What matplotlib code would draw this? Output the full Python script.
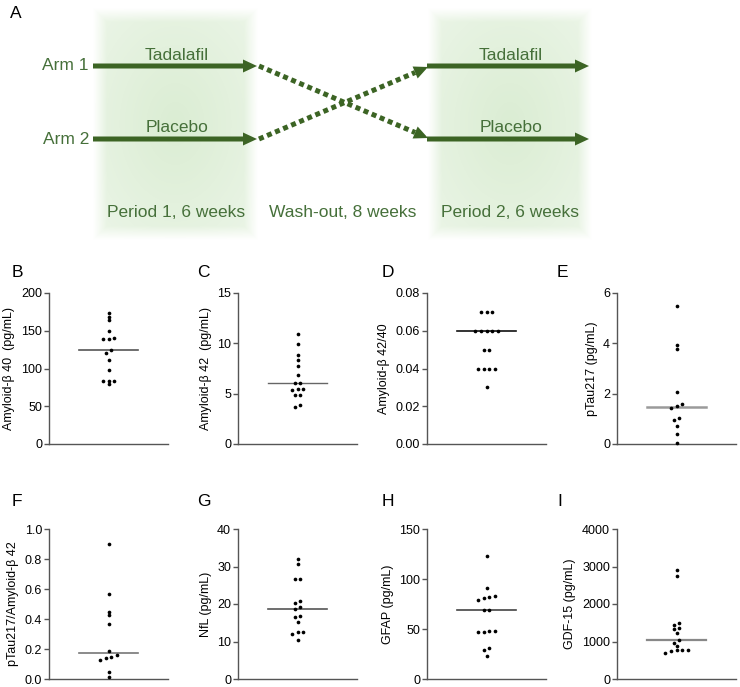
import numpy as np
import matplotlib
matplotlib.use('agg')
import matplotlib.pyplot as plt
from matplotlib.ticker import MultipleLocator, FormatStrFormatter

plt.rcParams['font.family'] = ['Liberation Sans', 'DejaVu Sans']

# one value per participant
amyloid40 = [174, 168, 164, 150, 139, 139, 140, 121, 124, 111, 98, 83, 83, 83, 79]
amyloid42 = [10.9, 9.9, 8.8, 8.3, 7.75, 6.9, 6.1, 6.1, 5.45, 5.5, 5.4, 4.85, 4.9, 3.7, 3.9]
ratio_42_40 = [0.07, 0.07, 0.07, 0.06, 0.06, 0.06, 0.06, 0.06, 0.05, 0.05,
               0.04, 0.04, 0.04, 0.04, 0.03]
ptau217 = [5.5, 3.93, 3.76, 2.07, 1.52, 1.6, 1.44, 1.05, 0.97, 0.73, 0.38, 0.05]
ptau217_ab42 = [0.90, 0.57, 0.45, 0.43, 0.37, 0.19, 0.16, 0.15, 0.14, 0.13, 0.044, 0.011]
nfl = [32.0, 30.6, 26.8, 26.8, 20.9, 20.4, 19.3, 18.7, 16.7, 16.5, 15.3, 12.5, 12.5, 12.0, 10.3]
gfap = [123.5, 90.7, 83.4, 81.8, 81.1, 79.1, 69.2, 69.2, 47.7, 47.0, 47.0, 47.7, 31.1, 28.8, 23.2]
gdf15 = [2905, 2737, 1492, 1448, 1351, 1333, 1227, 1033, 971, 892, 786, 768, 768, 759, 698]

panel_letters = ['B', 'C', 'D', 'E', 'F', 'G', 'H', 'I']
panel_ylabels = ['Amyloid-β 40  (pg/mL)', 'Amyloid-β 42  (pg/mL)', 'Amyloid-β 42/40',
                 'pTau217 (pg/mL)', 'pTau217/Amyloid-β 42', 'NfL (pg/mL)',
                 'GFAP (pg/mL)', 'GDF-15 (pg/mL)']
panel_data = [amyloid40, amyloid42, ratio_42_40, ptau217, ptau217_ab42, nfl, gfap, gdf15]
panel_ymax = [200, 15, 0.08, 6, 1.0, 40, 150, 4000]
panel_ystep = [50, 5, 0.02, 2, 0.2, 10, 50, 1000]
panel_fmt = ['%d', '%d', '%.2f', '%d', '%.1f', '%d', '%d', '%d']

median_colors = ['#555555', '#666666', '#111111', '#9a9a9a', '#777777', '#555555', '#444444', '#888888']
median_widths = [1.2, 1.0, 1.2, 1.8, 1.2, 1.2, 1.2, 1.6]

GREEN = '#3c6424'
TEXT_GREEN = '#46703a'
W, H = 740, 687


def swarm_offsets(values, ymax, height_px, gap_px=2.5, step=0.1):
    # dots closer than gap_px get spread side by side, centred
    vals = np.asarray(values, float)
    order = np.argsort(vals)
    tol = gap_px * ymax / height_px
    groups = [[order[0]]]
    for i in order[1:]:
        if vals[i] - vals[groups[-1][-1]] < tol:
            groups[-1].append(i)
        else:
            groups.append([i])
    offsets = np.zeros(len(vals))
    for g in groups:
        n = len(g)
        for k, i in enumerate(g):
            offsets[i] = (k - (n - 1) / 2) * step
    return offsets


def period_box(ax, x0, x1, y0, y1):
    w, h = int(x1 - x0), int(y1 - y0)
    xx, yy = np.meshgrid(np.arange(w) + 0.5, np.arange(h) + 0.5)
    edge = np.minimum(np.minimum(xx, w - xx), np.minimum(yy, h - yy))
    fade = np.clip(edge / 14.0, 0, 1)
    r = np.sqrt(((xx - w / 2) / (w / 2)) ** 2 + ((yy - h / 2) / (h / 2)) ** 2)
    alpha = fade * (0.36 - 0.12 * np.clip(r, 0, 1.4))
    img = np.zeros((h, w, 4))
    img[..., 0], img[..., 1], img[..., 2] = 0.60, 0.80, 0.52
    img[..., 3] = alpha
    ax.imshow(img, extent=(x0, x1, y1, y0), aspect='auto', zorder=0, interpolation='bilinear')


def dotted_arrow(ax, x0, y0, x1, y1, head_len=14, head_w=13):
    d = np.array([x1 - x0, y1 - y0], float)
    L = np.hypot(*d)
    u = d / L
    bx, by = x0 + u[0] * (L - head_len), y0 + u[1] * (L - head_len)
    ax.plot([x0, bx], [y0, by], color=GREEN, lw=3.6, linestyle=(0, (1.0, 0.75)),
            solid_capstyle='butt', dash_capstyle='butt')
    ax.arrow(bx, by, u[0] * head_len, u[1] * head_len, width=0.01, head_width=head_w,
             head_length=head_len, length_includes_head=True, color=GREEN, lw=0)


fig = plt.figure(figsize=(W / 100, H / 100), dpi=100)

# ---- panel A: crossover design
dg = fig.add_axes([0, 1 - 240 / H, 1, 240 / H])
period_box(dg, 93, 258, 8, 240)
period_box(dg, 428, 592, 8, 240)
for y in (66, 139):
    dg.arrow(93, y, 164, 0, width=5, head_width=13, head_length=14,
             length_includes_head=True, color=GREEN, lw=0)
    dg.arrow(427, y, 162, 0, width=5, head_width=13, head_length=14,
             length_includes_head=True, color=GREEN, lw=0)
dotted_arrow(dg, 259, 66, 428, 138)
dotted_arrow(dg, 259, 139, 428, 67)
dg.text(89, 66, 'Arm 1', ha='right', va='center', fontsize=12.5, color=TEXT_GREEN)
dg.text(89, 139, 'Arm 2', ha='right', va='center', fontsize=12.5, color=TEXT_GREEN)
dg.text(177, 55, 'Tadalafil', ha='center', va='center', fontsize=12.5, color=TEXT_GREEN)
dg.text(511, 55, 'Tadalafil', ha='center', va='center', fontsize=12.5, color=TEXT_GREEN)
dg.text(177, 128, 'Placebo', ha='center', va='center', fontsize=12.5, color=TEXT_GREEN)
dg.text(511, 128, 'Placebo', ha='center', va='center', fontsize=12.5, color=TEXT_GREEN)
dg.text(176, 213, 'Period 1, 6 weeks', ha='center', va='center', fontsize=12.5, color=TEXT_GREEN)
dg.text(343, 213, 'Wash-out, 8 weeks', ha='center', va='center', fontsize=12.5, color=TEXT_GREEN)
dg.text(510, 213, 'Period 2, 6 weeks', ha='center', va='center', fontsize=12.5, color=TEXT_GREEN)
dg.text(10, 14, 'A', ha='left', va='center', fontsize=12.5, color='black')
dg.set_xlim(0, W)
dg.set_ylim(240, 0)
dg.axis('off')

# ---- panels B-I: dot plots with median line
lefts = [49, 238, 427, 617]
rows = [(444, 151), (679, 150)]
letter_x = [12, 197, 382, 557]
letter_y = [273, 502]

for k in range(8):
    r, c = divmod(k, 4)
    bottom, height = rows[r]
    ax = fig.add_axes([lefts[c] / W, 1 - bottom / H, 119 / W, height / H])
    vals = np.asarray(panel_data[k], float)
    xs = swarm_offsets(vals, panel_ymax[k], height)
    ax.scatter(xs, vals, s=7, color='black', zorder=3, clip_on=False, linewidths=0)
    med = np.median(vals)
    ax.plot([-0.5, 0.5], [med, med], color=median_colors[k], lw=median_widths[k], zorder=2)
    ax.set_xlim(-1, 1)
    ax.set_ylim(0, panel_ymax[k])
    ax.yaxis.set_major_locator(MultipleLocator(panel_ystep[k]))
    ax.yaxis.set_major_formatter(FormatStrFormatter(panel_fmt[k]))
    ax.set_xticks([])
    for side in ('top', 'right'):
        ax.spines[side].set_visible(False)
    for side in ('left', 'bottom'):
        ax.spines[side].set_color('#555555')
        ax.spines[side].set_linewidth(1.0)
    ax.tick_params(axis='y', direction='out', length=3.5, width=1.0, color='#555555',
                   labelsize=9, pad=1.5)
    ax.set_ylabel(panel_ylabels[k], fontsize=9, labelpad=4)
    fig.text(letter_x[c] / W, 1 - letter_y[r] / H, panel_letters[k], fontsize=12.5,
             ha='left', va='center')

fig.savefig('out.png', dpi=100)
